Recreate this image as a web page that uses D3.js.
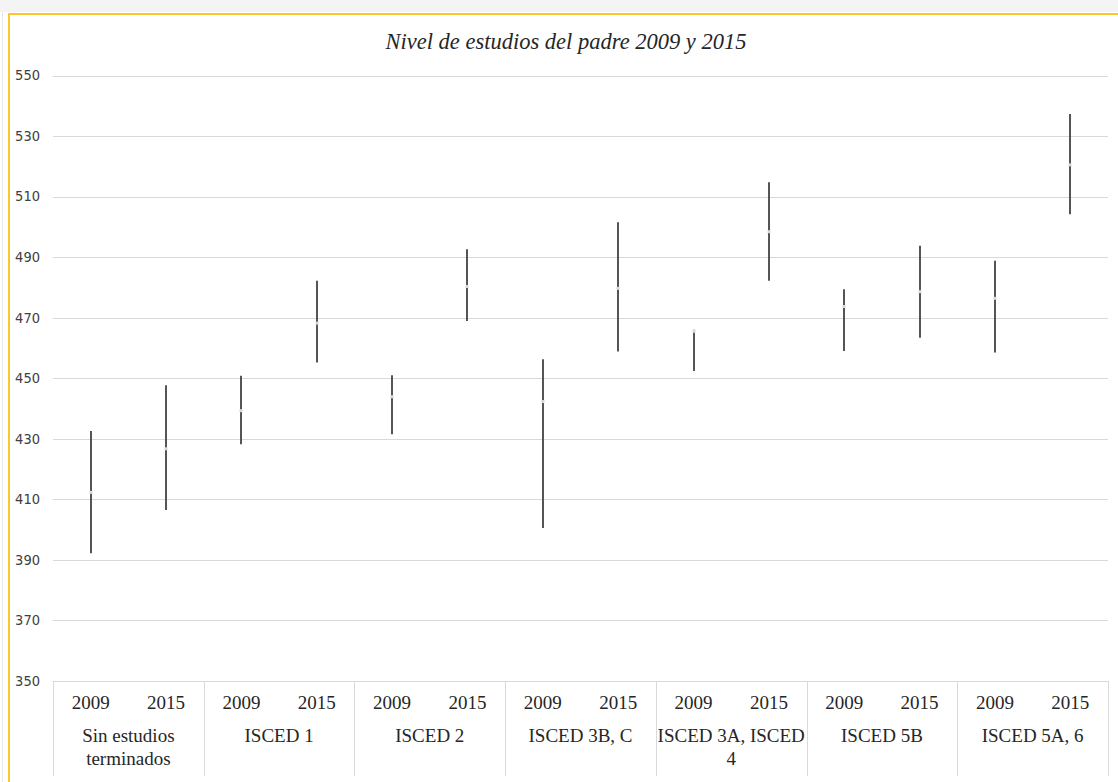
<!DOCTYPE html>
<html lang="es">
<head>
  <meta charset="UTF-8">
  <title>Nivel de estudios del padre</title>
  <style>
    body, html {
      margin: 0;
      padding: 0;
      background-color: #ffffff;
    }
    svg { display: block; }
    .serif { font-family: 'Liberation Serif', 'Times New Roman', Tinos, Times, 'DejaVu Serif', serif; }
    .narrow { font-family: 'Liberation Sans Narrow', 'Arial Narrow', 'DejaVu Sans Condensed', sans-serif; }
  </style>
</head>
<body>
  <svg id="svg" width="1118" height="782"></svg>
  <script src="https://d3js.org/d3.v7.min.js"></script>
  <script>
    // data
    const categories = [['Sin estudios', 'terminados'], ['ISCED 1'], ['ISCED 2'], ['ISCED 3B, C'],
      ['ISCED 3A, ISCED', '4'], ['ISCED 5B'], ['ISCED 5A, 6']]
    const years = ['2009', '2015']
    const high = [432.6, 447.7, 450.8, 482.2, 451, 492.6, 456.3, 501.5, 466, 514.7, 479.4, 493.8, 488.8, 537.3]
    const low = [392.2, 406.5, 428.2, 455.2, 431.5, 468.9, 400.5, 458.8, 452.4, 482.2, 459, 463.4, 458.5, 504.2]
    const mid = [412.3, 426.7, 439.3, 468.2, 443.9, 480.3, 442.3, 479.7, 465.5, 498.4, 473.7, 478.6, 476.4, 520.5]
    const yTicks = [350, 370, 390, 410, 430, 450, 470, 490, 510, 530, 550]

    const svg = d3.select('#svg')
    const plotLeft = 53
    const plotRight = 1108
    const plotTop = 75.5
    const plotBottom = 681

    // frame
    svg.append('rect').attr('x', 0).attr('y', 0).attr('width', 1118).attr('height', 12).attr('fill', '#f4f4f4')
    svg.append('line').attr('x1', 2.5).attr('x2', 2.5).attr('y1', 12).attr('y2', 782).attr('stroke', '#e6e6e6')
    svg.append('path')
      .attr('d', 'M9,782 L9,14 L1125,14')
      .attr('fill', 'none')
      .attr('stroke', '#ffc52e')
      .attr('stroke-width', 2)

    const points = d3.range(high.length)
    const xScale = d3.scaleBand()
      .domain(points)
      .range([plotLeft, plotRight])
    const catScale = d3.scaleBand()
      .domain(d3.range(categories.length))
      .range([plotLeft, plotRight])
    const yScale = d3.scaleLinear()
      .domain([350, 550])
      .range([plotBottom, plotTop])

    // title
    svg.append('text')
      .attr('class', 'serif')
      .text('Nivel de estudios del padre 2009 y 2015')
      .attr('x', 566)
      .attr('y', 49)
      .attr('text-anchor', 'middle')
      .style('font-style', 'italic')
      .style('font-size', '22.5px')
      .attr('fill', '#262626')

    // grid
    svg.append('g')
      .selectAll('line')
      .data(yTicks.slice(1))
      .enter()
      .append('line')
      .attr('x1', plotLeft)
      .attr('x2', plotRight)
      .attr('y1', d => Math.round(yScale(d)) + 0.5)
      .attr('y2', d => Math.round(yScale(d)) + 0.5)
      .attr('stroke', '#d9d9d9')
      .attr('stroke-width', 1)

    // y labels
    const leftAxis = d3.axisLeft(yScale).tickValues(yTicks).tickSize(0).tickPadding(0)
    const ya = svg.append('g')
      .attr('transform', 'translate(40, 0)')
      .call(leftAxis)
    ya.select('.domain').remove()
    ya.attr('font-family', null).attr('font-size', null)
    ya.selectAll('text')
      .attr('class', 'narrow')
      .style('font-size', '14.5px')
      .attr('fill', '#404040')
      .attr('dy', '0.3em')

    // bottom category box
    const box = svg.append('g')
    box.append('line')
      .attr('x1', plotLeft).attr('x2', plotRight)
      .attr('y1', plotBottom + 0.5).attr('y2', plotBottom + 0.5)
      .attr('stroke', '#d9d9d9')
    box.selectAll('line.sep')
      .data(d3.range(categories.length + 1))
      .enter()
      .append('line')
      .attr('class', 'sep')
      .attr('x1', i => Math.round(plotLeft + i * catScale.step()) + 0.5)
      .attr('x2', i => Math.round(plotLeft + i * catScale.step()) + 0.5)
      .attr('y1', plotBottom)
      .attr('y2', 776)
      .attr('stroke', '#d9d9d9')

    box.selectAll('text.year')
      .data(points)
      .enter()
      .append('text')
      .attr('class', 'year serif')
      .text(i => years[i % 2])
      .attr('x', i => xScale(i) + xScale.bandwidth() / 2)
      .attr('y', 709)
      .attr('text-anchor', 'middle')
      .style('font-size', '19px')
      .attr('fill', '#262626')

    const cats = box.selectAll('text.cat')
      .data(categories)
      .enter()
      .append('text')
      .attr('class', 'cat serif')
      .attr('text-anchor', 'middle')
      .style('font-size', '19px')
      .attr('fill', '#262626')
    cats.selectAll('tspan')
      .data((d, i) => d.map(t => ({ t, i })))
      .enter()
      .append('tspan')
      .text(d => d.t)
      .attr('x', d => catScale(d.i) + catScale.bandwidth() / 2)
      .attr('y', (d, j) => 742 + j * 23)

    // high-low lines
    const cx = i => Math.round(xScale(i) + xScale.bandwidth() / 2)
    svg.append('g')
      .selectAll('line')
      .data(points)
      .enter()
      .append('line')
      .attr('x1', cx)
      .attr('x2', cx)
      .attr('y1', i => yScale(high[i]))
      .attr('y2', i => yScale(low[i]))
      .attr('stroke', '#555555')
      .attr('stroke-width', 2)

    // midpoint markers
    svg.append('g')
      .selectAll('rect')
      .data(points)
      .enter()
      .append('rect')
      .attr('x', i => cx(i) - 1.5)
      .attr('y', i => yScale(mid[i]) - 1.5)
      .attr('width', 3)
      .attr('height', 3)
      .attr('fill', '#d9d9d9')
  </script>
</body>
</html>
